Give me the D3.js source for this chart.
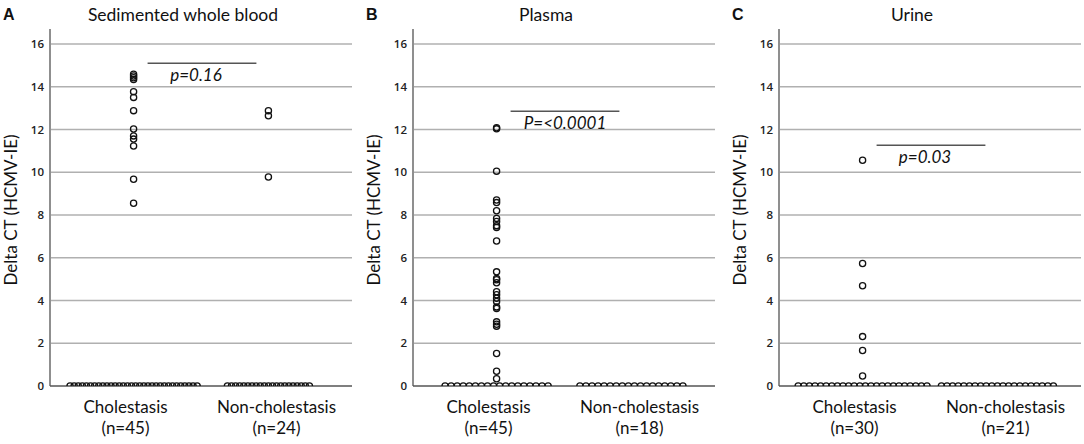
<!DOCTYPE html>
<html>
<head>
<meta charset="utf-8">
<script src="https://cdn.jsdelivr.net/npm/d3@7"></script>
<style>
  body { margin: 0; background: #fff; }
  svg { display: block; }
</style>
</head>
<body>
<svg id="chart" width="1084" height="444"></svg>
<script>
const panelLetters = ["A", "B", "C"];
const panelTitles = ["Sedimented whole blood", "Plasma", "Urine"];
const groupNames = ["Cholestasis", "Non-cholestasis"];
const groupCounts = [["(n=45)", "(n=24)"], ["(n=45)", "(n=18)"], ["(n=30)", "(n=21)"]];
const yTicks = [0, 2, 4, 6, 8, 10, 12, 14, 16];

// delta CT per patient
const bloodChol = [14.58, 14.5, 14.42, 14.34, 13.77, 13.5, 12.88, 12.02, 11.7, 11.55, 11.23, 9.67, 8.55,
  0, 0, 0, 0, 0, 0, 0, 0, 0, 0, 0, 0, 0, 0, 0, 0, 0, 0, 0, 0, 0, 0, 0, 0, 0, 0, 0, 0, 0, 0, 0, 0];
const bloodNonChol = [12.88, 12.64, 9.78,
  0, 0, 0, 0, 0, 0, 0, 0, 0, 0, 0, 0, 0, 0, 0, 0, 0, 0, 0, 0, 0];
const plasmaChol = [12.08, 12.03, 10.05, 8.7, 8.58, 8.2, 7.84, 7.7, 7.5, 7.42, 6.78, 5.34, 5.03, 4.97,
  4.83, 4.41, 4.27, 4.11, 3.95, 3.7, 3.63, 3.0, 2.89, 2.8, 1.52, 0.69, 0.34,
  0, 0, 0, 0, 0, 0, 0, 0, 0, 0, 0, 0, 0, 0, 0, 0, 0, 0];
const plasmaNonChol = [0, 0, 0, 0, 0, 0, 0, 0, 0, 0, 0, 0, 0, 0, 0, 0, 0, 0];
const urineChol = [10.56, 5.73, 4.69, 2.31, 1.66, 0.47,
  0, 0, 0, 0, 0, 0, 0, 0, 0, 0, 0, 0, 0, 0, 0, 0, 0, 0, 0, 0, 0, 0, 0, 0];
const urineNonChol = [0, 0, 0, 0, 0, 0, 0, 0, 0, 0, 0, 0, 0, 0, 0, 0, 0, 0, 0, 0, 0];

const pLabels = ["p=0.16", "P=<0.0001", "p=0.03"];
const pBarLevels = [15.1, 12.85, 11.26];

const seriesByPanel = [[bloodChol, bloodNonChol], [plasmaChol, plasmaNonChol], [urineChol, urineNonChol]];

const axisLeftX = [50, 413, 779];
const plotW = 302;
const dotGap = [4.1, 6.06, 5.6];   // horizontal spacing of tied values
const font = "Lato, 'Open Sans', sans-serif";

const svg = d3.select("#chart");

const y = d3.scaleLinear().domain([0, 16.7]).range([386, 29]);
const xBand = d3.scaleBand().domain(groupNames).range([0, plotW]);
const xPt = d3.scalePoint().domain(groupNames).range([0, plotW]).padding(0.62);

panelLetters.forEach(function(letter, i) {
  var g = svg.append("g").attr("transform", "translate(" + axisLeftX[i] + ",0)");

  svg.append("text")
    .attr("x", axisLeftX[i] - 47)
    .attr("y", 20)
    .attr("font-family", "'Liberation Sans', Arial, sans-serif")
    .attr("font-weight", "bold")
    .attr("font-size", 16)
    .attr("fill", "#111")
    .text(letter);

  g.append("text")
    .attr("x", plotW / 2 - 18)
    .attr("y", 21)
    .attr("text-anchor", "middle")
    .attr("font-family", font)
    .attr("font-size", 17.5)
    .attr("fill", "#111")
    .text(panelTitles[i]);

  // grid
  g.append("g")
    .selectAll("line")
    .data(yTicks.filter(function(d) { return d > 0; }))
    .join("line")
      .attr("x1", 0)
      .attr("x2", plotW)
      .attr("y1", function(d) { return y(d); })
      .attr("y2", function(d) { return y(d); })
      .attr("stroke", "#b0b0b0")
      .attr("stroke-width", 1.5);

  var yAxis = g.append("g")
    .call(d3.axisLeft(y).tickValues(yTicks).tickSize(0).tickPadding(6));
  yAxis.select(".domain").remove();
  yAxis.selectAll("text")
    .attr("font-family", "'Open Sans', sans-serif")
    .attr("font-weight", 600)
    .attr("font-size", 11.5)
    .attr("fill", "#222");

  g.append("line")
    .attr("x1", 0).attr("x2", 0)
    .attr("y1", y(0)).attr("y2", y.range()[1])
    .attr("stroke", "#8f8f8f")
    .attr("stroke-width", 2);

  g.append("line")
    .attr("x1", 0).attr("x2", plotW)
    .attr("y1", y(0)).attr("y2", y(0))
    .attr("stroke", "#555")
    .attr("stroke-width", 1.5);

  g.append("text")
    .attr("transform", "translate(" + (-33) + "," + 210 + ") rotate(-90)")
    .attr("text-anchor", "middle")
    .attr("font-family", font)
    .attr("font-size", 17)
    .attr("fill", "#111")
    .text("Delta CT (HCMV-IE)");

  // category labels
  var cat = g.append("g")
    .selectAll("text")
    .data(groupNames)
    .join("text")
      .attr("text-anchor", "middle")
      .attr("font-family", font)
      .attr("font-size", 17)
      .attr("fill", "#111");
  cat.append("tspan").attr("x", function(d) { return xBand(d) + xBand.bandwidth() / 2; })
    .attr("y", 413).text(function(d) { return d; });
  cat.append("tspan").attr("x", function(d) { return xBand(d) + xBand.bandwidth() / 2; })
    .attr("y", 434).text(function(d, j) { return groupCounts[i][j]; });

  // dots: tied values spread sideways around the group centre
  var clipId = "clip" + i;
  g.append("clipPath").attr("id", clipId)
    .append("rect")
      .attr("x", -5).attr("y", 0)
      .attr("width", plotW + 10).attr("height", y(0));

  var dots = [];
  groupNames.forEach(function(name, j) {
    var byValue = d3.group(seriesByPanel[i][j], function(d) { return d; });
    byValue.forEach(function(vals, v) {
      vals.forEach(function(_, k) {
        dots.push({ v: v, x: xPt(name) + (k - (vals.length - 1) / 2) * dotGap[i] });
      });
    });
  });

  g.append("g")
    .attr("clip-path", "url(#" + clipId + ")")
    .selectAll("circle")
    .data(dots)
    .join("circle")
      .attr("cx", function(d) { return d.x; })
      .attr("cy", function(d) { return y(d.v); })
      .attr("r", 3.1)
      .attr("fill", "none")
      .attr("stroke", "#111")
      .attr("stroke-width", 1.3);

  // significance bar
  var barY = y(pBarLevels[i]);
  var x1 = xPt(groupNames[0]) + 14,
    x2 = xPt(groupNames[1]) - 12;
  g.append("line")
    .attr("x1", x1).attr("x2", x2)
    .attr("y1", barY).attr("y2", barY)
    .attr("stroke", "#555")
    .attr("stroke-width", 1.5);
  g.append("text")
    .attr("x", (x1 + x2) / 2 - (i === 1 ? 0 : 6))
    .attr("y", barY + 18)
    .attr("text-anchor", "middle")
    .attr("font-family", font)
    .attr("font-style", "italic")
    .attr("font-size", 17)
    .attr("fill", "#111")
    .text(pLabels[i]);
});
</script>
</body>
</html>
